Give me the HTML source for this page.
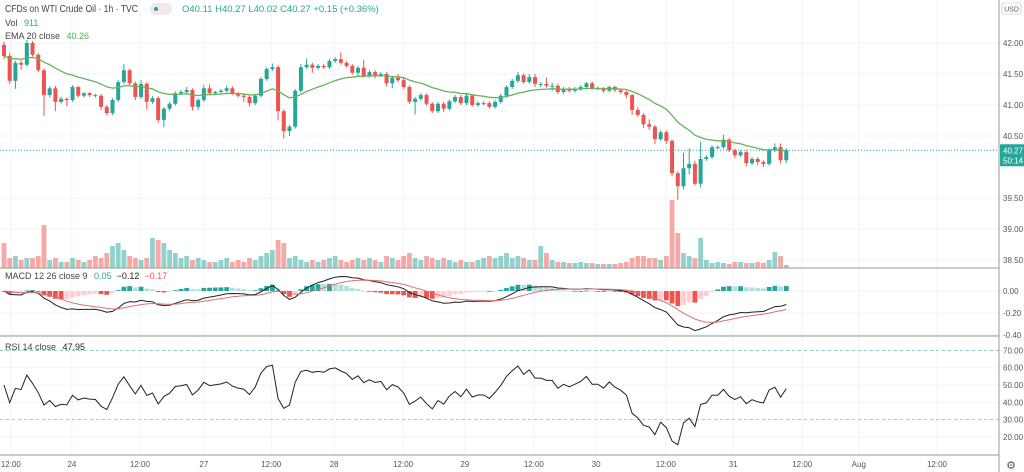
<!DOCTYPE html>
<html><head><meta charset="utf-8">
<style>
html,body{margin:0;padding:0;background:#fff;}
svg{display:block;font-family:"Liberation Sans",sans-serif;}
</style></head>
<body>
<svg id="chart" width="1024" height="472" viewBox="0 0 1024 472" xmlns="http://www.w3.org/2000/svg">
<g id="grid"></g>
<g id="vol"></g>
<g id="candles"></g>
<g id="ind"></g>
<g id="axes"></g>
<g id="legend">
 <text x="5" y="12" font-size="10.5" fill="#444" textLength="133" lengthAdjust="spacingAndGlyphs">CFDs on WTI Crude Oil · 1h · TVC</text>
 <rect x="150" y="3" width="22" height="12" rx="6" fill="#f3e6ee"/>
 <circle cx="156" cy="9" r="2" fill="#26a69a"/>
 <text x="182" y="12" font-size="9.5" fill="#26a69a">O40.11  H40.27  L40.02  C40.27  +0.15 (+0.36%)</text>
 <text x="5" y="26" font-size="9" fill="#444">Vol <tspan fill="#26a69a" dx="4">911</tspan></text>
 <text x="5" y="39" font-size="9" fill="#444">EMA 20 close <tspan fill="#4caf50" dx="4">40.26</tspan></text>
 <text x="5" y="279" font-size="9" fill="#444">MACD 12 26 close 9 <tspan fill="#26a69a" dx="4">0.05</tspan><tspan fill="#222" dx="5">−0.12</tspan><tspan fill="#ef5350" dx="5">−0.17</tspan></text>
 <text x="5" y="350" font-size="9" fill="#444">RSI 14 close <tspan fill="#222" dx="4">47.95</tspan></text>
 <rect x="1002" y="3" width="19" height="11" rx="2" fill="#fff" stroke="#bbb" stroke-width="0.6"/>
 <text x="1011.5" y="11.5" font-size="7" fill="#555" text-anchor="middle">USD</text>
 <text x="1011" y="469" font-size="11" fill="#555" text-anchor="middle">⚙</text>
</g>
</svg>
<script>
const firstOpen = 41.97;
const closes = [41.79,41.39,41.68,41.65,42.00,41.81,41.56,41.16,41.27,41.05,
41.10,41.08,41.29,41.15,41.19,41.16,41.15,40.97,40.87,41.08,
41.37,41.56,41.35,41.13,41.34,41.05,41.11,40.76,40.94,41.02,
41.19,41.21,41.24,40.97,41.08,41.27,41.19,41.21,41.23,41.27,
41.19,41.15,41.13,41.03,41.15,41.42,41.58,41.61,40.90,40.58,
40.65,41.23,41.61,41.65,41.60,41.63,41.61,41.71,41.74,41.68,
41.63,41.52,41.60,41.47,41.53,41.48,41.50,41.35,41.44,41.40,
41.29,41.05,41.10,41.16,41.02,40.90,41.02,40.94,41.06,41.13,
41.03,41.15,41.00,41.03,41.03,40.97,41.05,41.15,41.29,41.39,
41.48,41.37,41.45,41.34,41.34,41.31,41.31,41.21,41.26,41.23,
41.26,41.29,41.35,41.27,41.27,41.23,41.29,41.24,41.21,41.16,
40.92,40.84,40.69,40.65,40.45,40.56,40.42,39.90,39.69,39.98,
40.05,39.73,40.13,40.16,40.32,40.32,40.44,40.27,40.19,40.24,
40.06,40.13,40.08,40.05,40.27,40.32,40.11,40.27];
const wickUp = [0.05,0.05,0.03,0.04,0.05,0.03,0.03,0.03,0.03,0.04,
0.03,0.02,0.03,0.02,0.02,0.02,0.02,0.03,0.03,0.03,
0.03,0.10,0.03,0.03,0.06,0.03,0.03,0.03,0.03,0.03,
0.03,0.03,0.05,0.03,0.03,0.05,0.06,0.02,0.03,0.04,
0.03,0.02,0.02,0.02,0.03,0.03,0.03,0.06,0.03,0.03,
0.03,0.03,0.05,0.10,0.03,0.03,0.03,0.03,0.03,0.11,
0.03,0.03,0.03,0.13,0.03,0.03,0.03,0.03,0.03,0.06,
0.03,0.03,0.03,0.03,0.03,0.03,0.03,0.03,0.03,0.03,
0.03,0.05,0.03,0.03,0.03,0.03,0.03,0.03,0.03,0.03,
0.05,0.03,0.05,0.05,0.03,0.10,0.05,0.03,0.03,0.03,
0.03,0.03,0.02,0.03,0.03,0.02,0.02,0.02,0.02,0.02,
0.02,0.05,0.03,0.08,0.03,0.03,0.03,0.03,0.03,0.25,
0.25,0.05,0.28,0.03,0.03,0.03,0.08,0.03,0.03,0.03,
0.03,0.03,0.03,0.03,0.03,0.06,0.06,0.03];
const wickDn = [0.05,0.05,0.13,0.08,0.03,0.03,0.03,0.34,0.04,0.15,
0.03,0.10,0.03,0.03,0.03,0.03,0.03,0.05,0.03,0.03,
0.03,0.03,0.03,0.05,0.03,0.12,0.03,0.05,0.12,0.03,
0.03,0.03,0.03,0.06,0.05,0.03,0.03,0.03,0.03,0.03,
0.03,0.03,0.08,0.05,0.03,0.03,0.03,0.03,0.15,0.12,
0.08,0.03,0.03,0.03,0.08,0.03,0.03,0.03,0.03,0.03,
0.03,0.03,0.05,0.03,0.03,0.05,0.03,0.05,0.08,0.03,
0.03,0.03,0.20,0.03,0.03,0.03,0.03,0.05,0.03,0.03,
0.03,0.03,0.03,0.03,0.03,0.03,0.03,0.03,0.03,0.03,
0.03,0.03,0.03,0.05,0.05,0.03,0.08,0.03,0.03,0.03,
0.03,0.03,0.03,0.03,0.03,0.03,0.03,0.03,0.03,0.05,
0.08,0.03,0.06,0.05,0.08,0.03,0.05,0.05,0.22,0.05,
0.10,0.03,0.06,0.03,0.03,0.03,0.03,0.03,0.05,0.03,
0.05,0.03,0.05,0.05,0.03,0.03,0.05,0.05];
const volumes = [25,10,12,8,10,10,12,43,8,10,
6,6,10,8,6,8,12,10,15,22,
25,18,12,10,8,10,30,28,25,18,
15,10,12,8,10,8,6,6,8,10,
6,8,6,10,8,12,15,18,28,25,
10,12,8,6,8,6,8,10,12,8,
6,8,10,8,10,8,6,12,10,8,
12,15,10,8,12,10,8,10,8,6,
8,6,6,8,10,12,10,12,15,10,
12,10,8,8,22,15,8,6,6,5,
5,6,5,5,4,4,4,4,5,6,
10,12,12,10,10,8,12,68,35,15,
12,10,30,8,5,6,5,4,6,6,
5,5,6,5,8,16,12,3];
const priceTicks = [42.00,41.50,41.00,40.50,39.50,39.00,38.50];
const macdTicks = [0.00,-0.20,-0.40];
const rsiTicks = [70,60,50,40,30,20];
const timeLabels = ["12:00","24","12:00","27","12:00","28","12:00","29","12:00","30","12:00","31","12:00","Aug","12:00"];
const timeTickBars = [1.2,11.9,23.8,35,46.8,57.8,69.9,80.7,92.8,103.7,115.9,127.7,139.8,149.7,163.4];

const NS="http://www.w3.org/2000/svg";
const UP="#26a69a", DN="#ef5350";
const X0=4, DX=5.71, PLOT_R=999;
const xOf=i=>X0+i*DX;
const yP=p=>43+(42-p)*62;
const yV=v=>268-v;
const yM=m=>291-m*110;
const yR=r=>385-(r-50)*1.73;
function el(tag,attrs,parent){const e=document.createElementNS(NS,tag);for(const k in attrs)e.setAttribute(k,attrs[k]);parent.appendChild(e);return e;}
const G=id=>document.getElementById(id);
const grid=G('grid'),vol=G('vol'),cg=G('candles'),ind=G('ind'),ax=G('axes');

timeTickBars.forEach((b,k)=>{
  const x=xOf(b);
  const ln=el('line',{x1:x,y1:0,x2:x,y2:455,stroke:'#f0f3f6','stroke-width':1},grid);
  
  
  const t=el('text',{x:x,y:467,'font-size':8,fill:'#555','text-anchor':'middle'},ax);
  t.textContent=timeLabels[k];
  
  
});
priceTicks.forEach(p=>{
  const y=yP(p);
  const ln=el('line',{x1:0,y1:y,x2:PLOT_R,y2:y,stroke:'#f0f3f6'},grid);
  
  
  const t=el('text',{x:1003,y:y+3,'font-size':8,fill:'#555'},ax);
  t.textContent=p.toFixed(2);
  
  
});
macdTicks.forEach(m=>{
  const y=yM(m);
  const ln=el('line',{x1:0,y1:y,x2:PLOT_R,y2:y,stroke:'#f0f3f6'},grid);
  
  
  const t=el('text',{x:1003,y:y+3,'font-size':8,fill:'#555'},ax);
  t.textContent=m.toFixed(2);
  
  
});
rsiTicks.forEach(r=>{
  const y=yR(r);
  const ln=el('line',{x1:0,y1:y,x2:PLOT_R,y2:y,stroke:'#f0f3f6'},grid);
  
  
  const t=el('text',{x:1003,y:y+3,'font-size':8,fill:'#555'},ax);
  t.textContent=r.toFixed(2);
  
  
});
[[70,'#7fb8b0'],[30,'#e0a0a0']].forEach(([r,c])=>{
  const ln=el('line',{x1:0,y1:yR(r),x2:PLOT_R,y2:yR(r),stroke:c,'stroke-dasharray':'3,3','stroke-width':0.8},grid);
  
  
});
[[0,268,PLOT_R,268],[0,336,PLOT_R,336],[0,455,PLOT_R,455],[PLOT_R,0,PLOT_R,472]].forEach(a=>{
  const ln=el('line',{x1:a[0],y1:a[1],x2:a[2],y2:a[3],stroke:'#999','stroke-width':1},ax);
  
  
});

const opens=closes.map((c,i)=>i===0?firstOpen:closes[i-1]);
closes.forEach((c,i)=>{
  const o=opens[i],up=c>=o,col=up?UP:DN,x=xOf(i);
  const hi=Math.max(o,c)+wickUp[i],lo=Math.min(o,c)-wickDn[i];
  const w=el('line',{x1:x,y1:yP(hi),x2:x,y2:yP(lo),stroke:col,'stroke-width':1},cg);
  
  
  const top=yP(Math.max(o,c)),h=Math.max(1,yP(Math.min(o,c))-top);
  const b=el('rect',{x:x-2,y:top,width:4,height:h,fill:col},cg);
  
  
  const v=el('rect',{x:x-2.4,y:yV(volumes[i]),width:4.8,height:volumes[i],fill:up?'rgba(38,166,154,0.5)':'rgba(239,83,80,0.5)'},vol);
  
  
});

function ema(arr,n){const k=2/(n+1);let e=arr[0];return arr.map((v,i)=>{e=i===0?v:v*k+e*(1-k);return e;});}
const ema20=ema(closes,20);
function path(vals,yf){return vals.map((v,i)=>(i?'L':'M')+xOf(i).toFixed(1)+','+yf(v).toFixed(1)).join('');}
const emaP=el('path',{d:path(ema20,yP),fill:'none',stroke:'#66b35a','stroke-width':1.3},ind);



const e12=ema(closes,12),e26=ema(closes,26);
const macd=e12.map((v,i)=>v-e26[i]);
const sig=ema(macd,9);
const hist=macd.map((v,i)=>v-sig[i]);
hist.forEach((h,i)=>{
  const prev=i?hist[i-1]:h;
  let col;
  if(h>=0) col=h>=prev?'#26a69a':'#b2dfdb'; else col=h<prev?'#ef5350':'#ffcdd2';
  const y1=yM(Math.max(h,0)),y2=yM(Math.min(h,0));
  const r=el('rect',{x:xOf(i)-2.4,y:y1,width:4.8,height:Math.max(0.8,y2-y1),fill:col},ind);
  
  
});
const mp=el('path',{d:path(macd,yM),fill:'none',stroke:'#222','stroke-width':1},ind);


const sp=el('path',{d:path(sig,yM),fill:'none',stroke:'#e07070','stroke-width':1},ind);



// RSI (Wilder, seeded with neutral averages)
const rsi=[];let ag=0.06,al=0.06;
closes.forEach((c,i)=>{
  if(i===0){rsi.push(50);return;}
  const d=c-closes[i-1],g=Math.max(d,0),l=Math.max(-d,0);
  ag=(ag*13+g)/14;al=(al*13+l)/14;
  const rs=al===0?100:ag/al;rsi.push(100-100/(1+rs));
});
const rp=el('path',{d:path(rsi,yR),fill:'none',stroke:'#222','stroke-width':1},ind);



const last=closes[closes.length-1],ly=yP(last);
const pl=el('line',{x1:0,y1:ly,x2:PLOT_R,y2:ly,stroke:'#26a69a','stroke-dasharray':'1,2','stroke-width':1},ax);


const lb=el('rect',{x:1000,y:ly-6,width:24,height:22,fill:'#26a69a'},ax);


const lt=el('text',{x:1003,y:ly+3,'font-size':8,fill:'#fff'},ax);lt.textContent=last.toFixed(2);
const ct=el('text',{x:1003,y:ly+13,'font-size':8,fill:'#fff'},ax);ct.textContent='50:14';


</script>
</body></html>
